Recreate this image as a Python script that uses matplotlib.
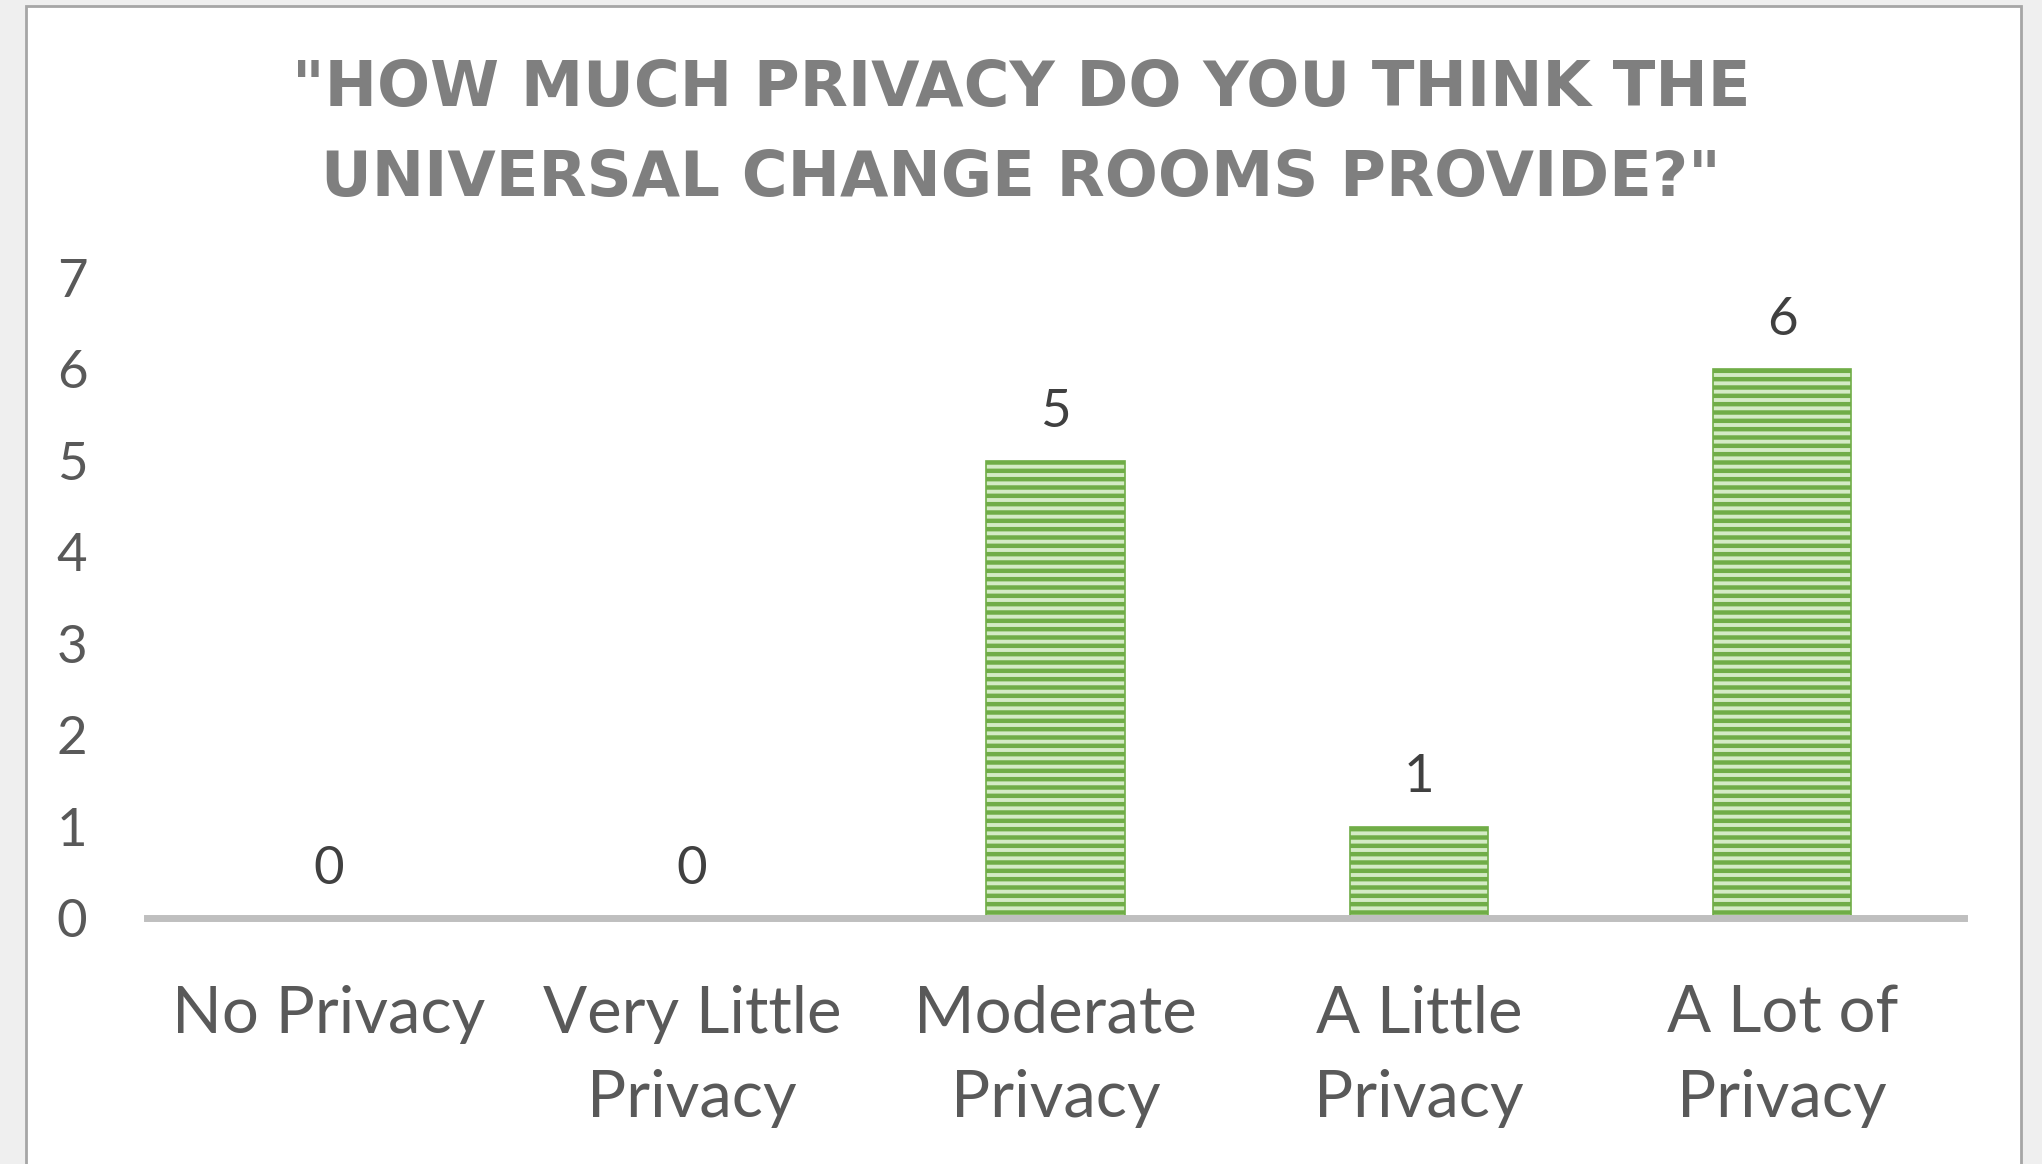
import matplotlib
matplotlib.use("Agg")
from matplotlib import pyplot as plt
from matplotlib.patches import Rectangle

# survey answers
categories = ["No Privacy", "Very Little\nPrivacy", "Moderate\nPrivacy",
              "A Little\nPrivacy", "A Lot of\nPrivacy"]
counts = [0, 0, 5, 1, 6]
y_ticks = [0, 1, 2, 3, 4, 5, 6, 7]
title = '"HOW MUCH PRIVACY DO YOU THINK THE\nUNIVERSAL CHANGE ROOMS PROVIDE?"'

plt.rcParams['font.family'] = ['Lato', 'DejaVu Sans']
plt.rcParams['hatch.linewidth'] = 3.2

fig = plt.figure(figsize=(20.42, 11.64), dpi=100, facecolor='#efefef')

# white chart area with grey frame
fig.patches.append(Rectangle((26 / 2042, -0.05), (2021 - 26) / 2042, 1.05 - 6 / 1164,
                             transform=fig.transFigure, facecolor='white',
                             edgecolor='#a6a6a6', lw=2, zorder=-10))

ax = fig.add_axes([147 / 2042, 1 - 918 / 1164, (1964 - 147) / 2042, (918 - 278) / 1164])
ax.set_facecolor('none')

x = list(range(len(categories)))
ax.bar(x, counts, width=0.38, color='#d4ebc5', edgecolor='#70ad47',
       hatch='--', lw=1.2)

for i, v in zip(x, counts):
    ax.annotate(str(v), (i, v), xytext=(0, 35), textcoords='offset points',
                ha='center', va='center', fontsize=38, color='#404040')

ax.set_xlim(-0.5, 4.5)
ax.set_ylim(0, 7)
ax.set_yticks(y_ticks)
ax.set_xticks(x)
ax.set_xticklabels(categories, fontsize=47, color='#595959', linespacing=1.52)
ax.tick_params(axis='y', labelsize=38, labelcolor='#595959', length=0, pad=43)
ax.tick_params(axis='x', length=0, pad=48)

for s in ['top', 'right', 'left']:
    ax.spines[s].set_visible(False)
ax.spines['bottom'].set_color('#bfbfbf')
ax.spines['bottom'].set_linewidth(5)

fig.text(0.5, 1 - 134 / 1164, title, ha='center', va='center',
         fontsize=45, fontweight='bold', color='#7f7f7f',
         family=['DejaVu Sans'], linespacing=1.62)

plt.savefig('out.png', dpi=100, facecolor=fig.get_facecolor())
